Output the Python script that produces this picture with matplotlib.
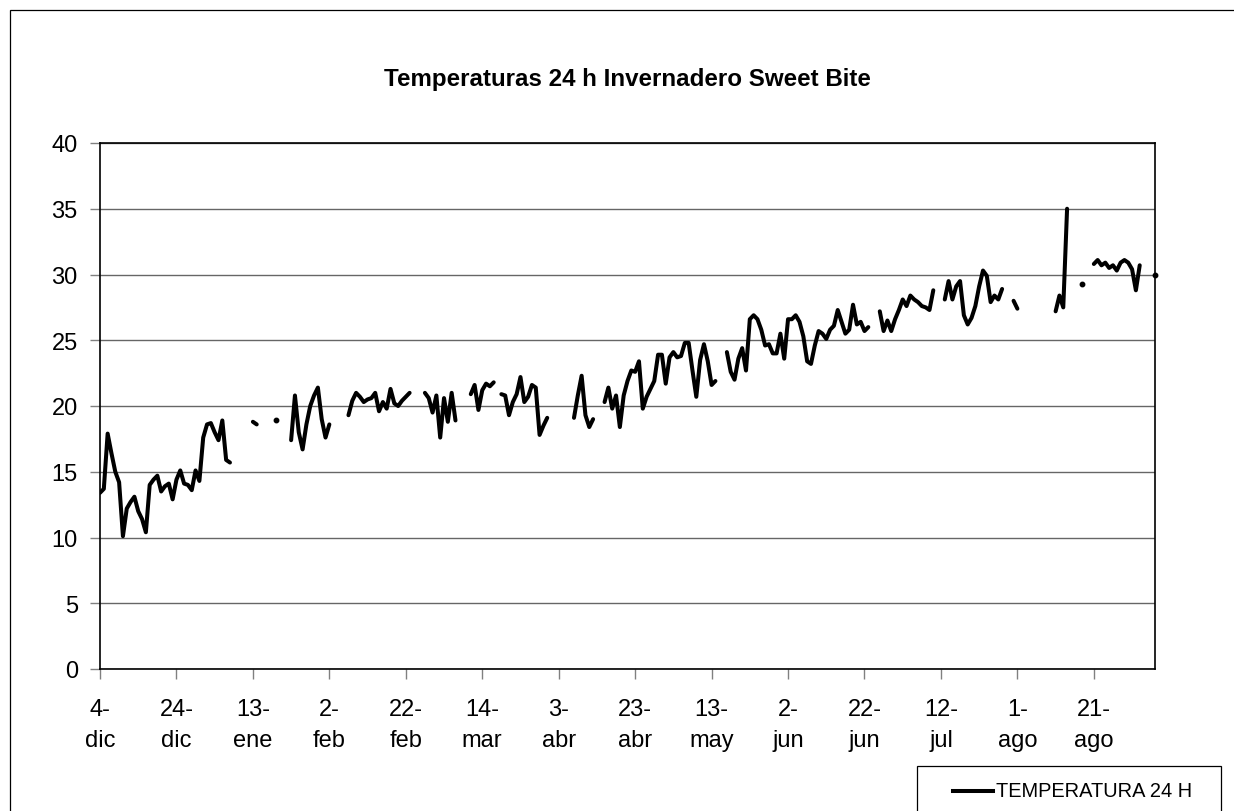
import numpy as np
import pandas as pd
import matplotlib
matplotlib.use('Agg')
import matplotlib.pyplot as plt
from matplotlib.lines import Line2D
from matplotlib.patches import Rectangle

# one value per day starting 4-dic, None = no reading that day
fecha_inicio = '2008-12-04'
temp_24h = [
    13.4, 13.7, 17.9, 16.4, 15.0, 14.2, 10.1, 12.2, 12.7, 13.1,
    12.0, 11.4, 10.4, 14.0, 14.4, 14.7, 13.5, 13.9, 14.1, 12.9,
    14.4, 15.1, 14.1, 14.0, 13.6, 15.1, 14.3, 17.6, 18.6, 18.7,
    18.0, 17.4, 18.9, 15.9, 15.7, None, None, None, None, None,
    18.8, 18.6, None, None, None, None, 18.9, None, None, None,
    17.4, 20.8, 18.0, 16.7, 18.6, 20.0, 20.8, 21.4, 19.0, 17.6,
    18.6, None, None, None, None, 19.3, 20.4, 21.0, 20.7, 20.3,
    20.5, 20.6, 21.0, 19.6, 20.3, 19.8, 21.3, 20.2, 20.0, 20.4,
    20.7, 21.0, None, None, None, 21.0, 20.6, 19.5, 20.8, 17.6,
    20.6, 18.8, 21.0, 18.9, None, None, None, 20.9, 21.6, 19.7,
    21.2, 21.7, 21.5, 21.8, None, 20.9, 20.8, 19.3, 20.3, 20.9,
    22.2, 20.3, 20.7, 21.6, 21.4, 17.8, 18.5, 19.1, None, None,
    None, None, None, None, 19.1, 20.8, 22.3, 19.3, 18.4, 19.0,
    None, None, 20.3, 21.4, 19.8, 20.8, 18.4, 20.8, 21.9, 22.7,
    22.6, 23.4, 19.8, 20.7, 21.3, 21.9, 23.9, 23.9, 21.7, 23.7,
    24.1, 23.7, 23.8, 24.8, 24.8, 22.7, 20.7, 23.5, 24.7, 23.4,
    21.6, 21.9, None, None, 24.1, 22.6, 22.0, 23.6, 24.4, 22.7,
    26.6, 26.9, 26.6, 25.8, 24.6, 24.7, 24.0, 24.0, 25.5, 23.6,
    26.6, 26.6, 26.9, 26.4, 25.3, 23.4, 23.2, 24.6, 25.7, 25.5,
    25.1, 25.8, 26.1, 27.3, 26.4, 25.5, 25.8, 27.7, 26.2, 26.4,
    25.7, 26.0, None, None, 27.2, 25.7, 26.5, 25.7, 26.6, 27.3,
    28.1, 27.6, 28.4, 28.1, 27.9, 27.6, 27.5, 27.3, 28.8, None,
    None, 28.1, 29.5, 28.1, 29.1, 29.5, 26.9, 26.2, 26.7, 27.6,
    29.1, 30.3, 29.9, 27.9, 28.4, 28.1, 28.9, None, None, 28.0,
    27.4, None, None, None, None, None, None, None, None, None,
    27.2, 28.4, 27.5, 35.0, None, None, None, 29.3, None, None,
    30.8, 31.1, 30.7, 30.9, 30.5, 30.7, 30.3, 30.9, 31.1, 30.9,
    30.4, 28.8, 30.7, None, None, None, 30.0,
]
meses = ['ene', 'feb', 'mar', 'abr', 'may', 'jun',
         'jul', 'ago', 'sep', 'oct', 'nov', 'dic']
y_ticks = [0, 5, 10, 15, 20, 25, 30, 35, 40]
titulo = 'Temperaturas 24 h Invernadero Sweet Bite'
serie = 'TEMPERATURA 24 H'

fechas = pd.date_range(fecha_inicio, periods=len(temp_24h), freq='D')
temp = pd.Series(temp_24h, index=fechas, dtype=float)

plt.rcParams['font.family'] = ['Liberation Sans', 'DejaVu Sans']

W, H = 1234, 812
fig = plt.figure(figsize=(W / 100, H / 100), dpi=100)

def fx(px):
    return px / W

def fy(py):
    return 1 - py / H

# outer chart border (runs off the right/bottom edge)
fig.add_artist(Rectangle((fx(10), fy(900)), fx(1400), 900 / H - 11 / H,
                         transform=fig.transFigure, fill=False,
                         edgecolor='black', lw=0.9))

ax = fig.add_axes([fx(100), fy(670), fx(1055), 526 / H])

ax.plot(temp.index, temp.values, color='black', lw=2.9,
        solid_capstyle='round', solid_joinstyle='round', zorder=3)

# single days surrounded by gaps show up as dots
vals = temp.values
prev = np.r_[np.nan, vals[:-1]]
nxt = np.r_[vals[1:], np.nan]
aislado = ~np.isnan(vals) & np.isnan(prev) & np.isnan(nxt)
ax.plot(temp.index[aislado], vals[aislado], 'o', color='black', ms=3.2,
        clip_on=False, zorder=3)

ax.set_xlim(fechas[0], fechas[-1])
ax.set_ylim(0, 40)
ax.set_yticks(y_ticks)
ax.grid(axis='y', color='#666666', lw=1.0, zorder=0)

ticks = fechas[::20]
ax.set_xticks(ticks)
ax.set_xticklabels([f'{d.day}-\n{meses[d.month - 1]}' for d in ticks],
                   linespacing=1.5)

ax.tick_params(axis='both', direction='out', length=7, width=1,
               color='#808080', labelsize=17)
ax.tick_params(axis='x', pad=14)
ax.tick_params(axis='y', pad=9)
for s in ax.spines.values():
    s.set_color('black')
    s.set_linewidth(1.2)

fig.text(fx(627.5), fy(86), titulo, ha='center', va='baseline',
         fontsize=17.4, fontweight='bold')

# legend box, cut by the bottom edge like in the original
fig.add_artist(Rectangle((fx(917), fy(840)), fx(1221 - 917), 73 / H,
                         transform=fig.transFigure, fill=False,
                         edgecolor='black', lw=0.9))
fig.add_artist(Line2D([fx(953), fx(993)], [fy(792), fy(792)],
                      transform=fig.transFigure, color='black', lw=2.9))
fig.text(fx(996), fy(792), serie, ha='left', va='center', fontsize=14.4)

fig.savefig('out.png', dpi=100)
